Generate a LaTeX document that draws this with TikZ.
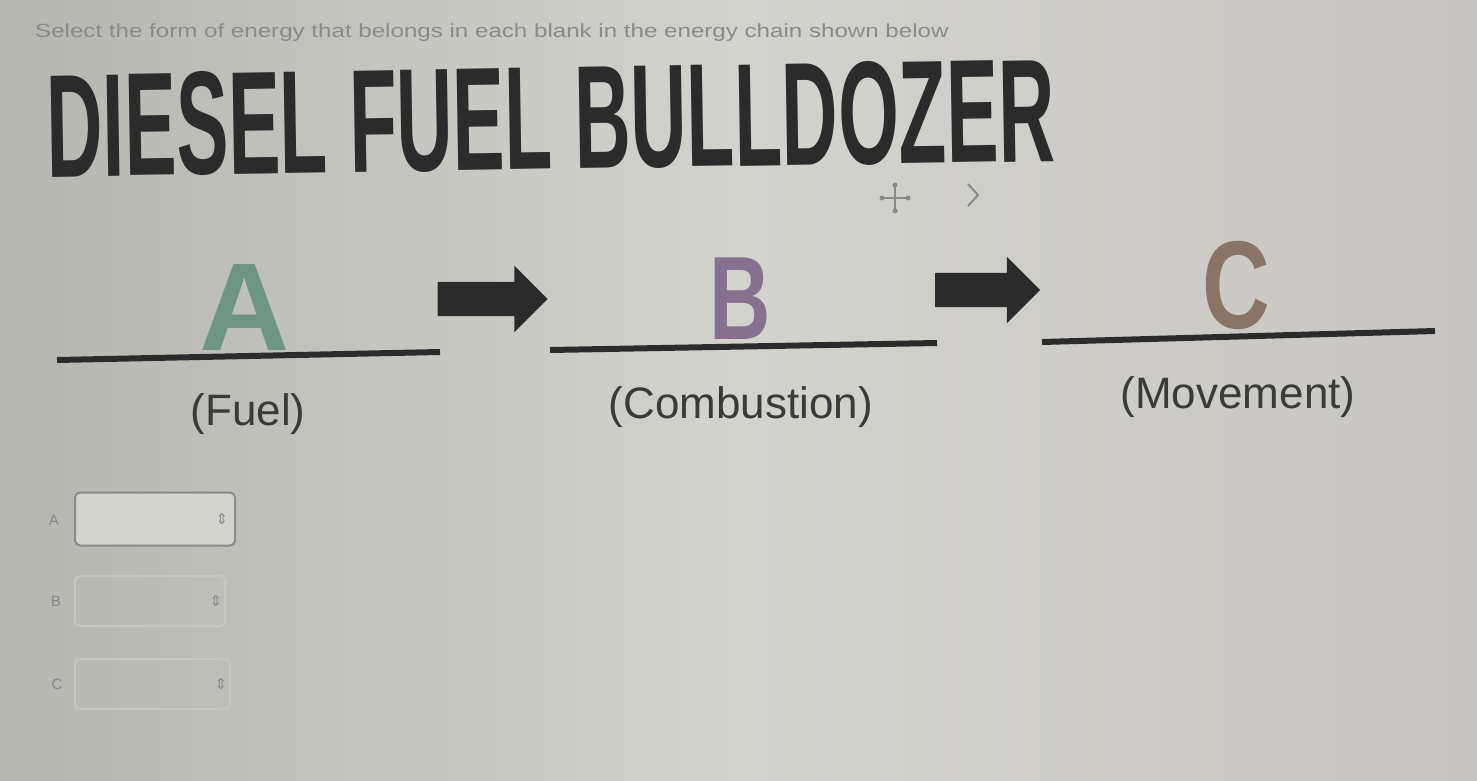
\documentclass[tikz,border=0pt]{standalone}
\usepackage{fontspec}
\setmainfont{Liberation Sans}
\newfontfamily\symfont{DejaVu Sans}
\usetikzlibrary{shapes.arrows}
\definecolor{bgL}{HTML}{B6B6B0}
\definecolor{bgM}{HTML}{D3D3CE}
\definecolor{bgR}{HTML}{C8C6C2}
\definecolor{titlec}{HTML}{2B2B2B}
\definecolor{inkc}{HTML}{3A3A3A}
\definecolor{colA}{HTML}{6E9484}
\definecolor{colB}{HTML}{86718F}
\definecolor{colC}{HTML}{8A7465}
\definecolor{faint}{HTML}{8A8A86}
\tikzset{
  letter/.style={inner sep=0, anchor=base, font=\fontsize{125}{125}\selectfont\bfseries},
  blank/.style={line width=6pt, draw=titlec},
  label/.style={inner sep=0, anchor=base, text=inkc, font=\fontsize{44}{44}\selectfont},
  blockarrow/.style={single arrow, fill=titlec, draw=none, inner sep=0pt, inner ysep=17pt,
    single arrow head extend=16pt, single arrow head indent=0pt, shape border rotate=0},
  selectbox/.style={draw=#1, line width=2pt, rounded corners=5pt},
  smalltxt/.style={inner sep=0, text=faint}
}
\begin{document}
\begin{tikzpicture}[x=1pt,y=-1pt]
\useasboundingbox (0,0) rectangle (1477,780);
\shade[left color=bgL, right color=bgR, middle color=bgM] (0,0) rectangle (1477,780);

% instruction line
\node[smalltxt, anchor=base west, font=\fontsize{19}{19}\selectfont] (instr) at (35,37)
  {\scalebox{1.27}[1]{Select the form of energy that belongs in each blank in the energy chain shown below}};

% title
\node[anchor=base west, text=titlec, inner sep=0, rotate=0.9] (title) at (47,177)
  {\fontsize{147}{147}\selectfont\bfseries\scalebox{0.53}[1]{DIESEL FUEL BULLDOZER}};

% toolbar icons
\coordinate (mv) at (895,198);
\draw[faint, line width=2pt] ([xshift=-13pt]mv) -- ([xshift=13pt]mv) ([yshift=-13pt]mv) -- ([yshift=13pt]mv);
\fill[faint] ([xshift=-13pt]mv) circle (2.5pt) ([xshift=13pt]mv) circle (2.5pt)
  ([yshift=-13pt]mv) circle (2.5pt) ([yshift=13pt]mv) circle (2.5pt);
\coordinate (chev) at (973,195);
\draw[faint, line width=2pt] ([shift={(-5,-11)}]chev) -- ([shift={(5,0)}]chev) -- ([shift={(-5,11)}]chev);

% letters
\node[letter, text=colA] (A) at (245,350) {A};
\node[letter, text=colB] (B) at (740,339) {\scalebox{0.68}[0.95]{B}};
\node[letter, text=colC] (C) at (1236,328) {\scalebox{0.75}[1]{C}};

% blanks
\coordinate (a1) at (57,360); \coordinate (a2) at (440,352);
\coordinate (b1) at (550,350); \coordinate (b2) at (937,343);
\coordinate (c1) at (1042,342); \coordinate (c2) at (1435,331);
\draw[blank] (a1) -- (a2);
\draw[blank] (b1) -- (b2);
\draw[blank] (c1) -- (c2);

% block arrows
\node[blockarrow, minimum height=110pt] (arr1) at (484,299) {};
\node[blockarrow, minimum height=105pt] (arr2) at (979,290) {};

% labels
\node[label] (lA) at (248,425) {(Fuel)};
\node[label] (lB) at (741,418) {(Combustion)};
\node[label] (lC) at (1238,408) {(Movement)};

% select boxes
\node[smalltxt, font=\fontsize{15}{15}\selectfont] (sA) at (54,520) {A};
\node[selectbox=faint, fill=bgM, minimum width=160pt, minimum height=53pt, anchor=west] (boxA) at (74,519) {};
\node[smalltxt, font=\symfont\fontsize{15}{15}\selectfont] at ([xshift=-14pt]boxA.east) {⇕};

\node[smalltxt, font=\fontsize{15}{15}\selectfont] (sB) at (56,601) {B};
\node[selectbox=bgM!60!bgL, minimum width=150pt, minimum height=50pt, anchor=west] (boxB) at (74,601) {};
\node[smalltxt, font=\symfont\fontsize{15}{15}\selectfont] at ([xshift=-10pt]boxB.east) {⇕};

\node[smalltxt, font=\fontsize{15}{15}\selectfont] (sC) at (57,684) {C};
\node[selectbox=bgM!60!bgL, minimum width=155pt, minimum height=50pt, anchor=west] (boxC) at (74,684) {};
\node[smalltxt, font=\symfont\fontsize{15}{15}\selectfont] at ([xshift=-10pt]boxC.east) {⇕};
\end{tikzpicture}
\end{document}
